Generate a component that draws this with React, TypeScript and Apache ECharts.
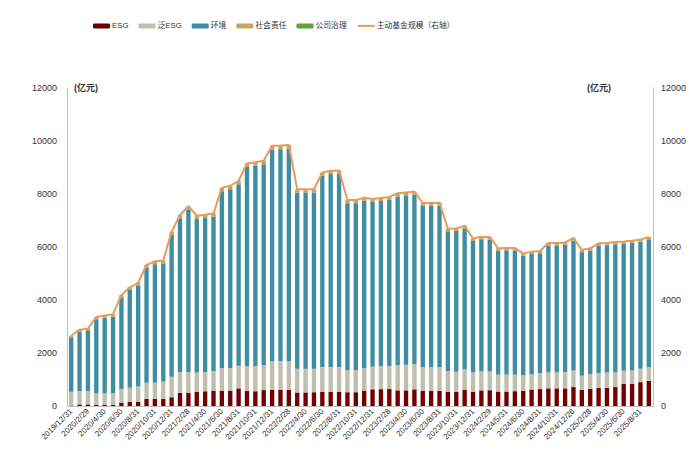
import React, { useEffect, useRef } from "react";
import * as echarts from "echarts";

const categories: string[] = [
  "2019/12/31", "2020/1/31", "2020/2/29", "2020/3/31", "2020/4/30", "2020/5/31", "2020/6/30", "2020/7/31",
  "2020/8/31", "2020/9/30", "2020/10/31", "2020/11/30", "2020/12/31", "2021/1/31", "2021/2/28", "2021/3/31",
  "2021/4/30", "2021/5/31", "2021/6/30", "2021/7/31", "2021/8/31", "2021/9/30", "2021/10/31", "2021/11/30",
  "2021/12/31", "2022/1/31", "2022/2/28", "2022/3/31", "2022/4/30", "2022/5/31", "2022/6/30", "2022/7/31",
  "2022/8/31", "2022/9/30", "2022/10/31", "2022/11/30", "2022/12/31", "2023/1/31", "2023/2/28", "2023/3/31",
  "2023/4/30", "2023/5/31", "2023/6/30", "2023/7/31", "2023/8/31", "2023/9/30", "2023/10/31", "2023/11/30",
  "2023/12/31", "2024/1/31", "2024/2/29", "2024/3/31", "2024/5/31", "2024/6/14", "2024/6/30", "2024/7/31",
  "2024/8/31", "2024/9/30", "2024/10/31", "2024/11/30", "2024/12/26", "2025/1/31", "2025/2/28", "2025/3/31",
  "2025/4/30", "2025/5/31", "2025/6/30", "2025/7/31", "2025/8/31", "2025/9/30",
];

const esg: number[] = [
  15, 60, 60, 50, 50, 50, 125, 150, 150, 265,
  265, 265, 330, 490, 490, 540, 555, 580, 580, 580,
  665, 565, 560, 600, 615, 615, 610, 510, 510, 520,
  540, 540, 540, 520, 520, 580, 630, 635, 640, 590,
  590, 630, 565, 565, 570, 540, 540, 615, 540, 590,
  595, 545, 545, 560, 570, 620, 640, 665, 665, 665,
  715, 605, 650, 685, 685, 715, 830, 830, 900, 945,
];

const panEsg: number[] = [
  525, 505, 505, 430, 430, 430, 515, 540, 590, 615,
  615, 655, 775, 780, 780, 720, 730, 740, 840, 840,
  855, 945, 950, 935, 1070, 1070, 1075, 900, 900, 890,
  930, 930, 930, 825, 825, 855, 855, 875, 870, 945,
  970, 955, 895, 895, 890, 780, 755, 770, 720, 720,
  715, 640, 640, 625, 590, 575, 595, 605, 605, 605,
  620, 540, 560, 550, 575, 545, 505, 505, 510, 515,
];

const env: number[] = [
  2025, 2225, 2265, 2790, 2845, 2885, 3450, 3690, 3805, 4330,
  4470, 4460, 5357, 5817, 6142, 5797, 5812, 5827, 6682, 6762,
  6852, 7507, 7557, 7592, 7997, 8007, 8027, 6647, 6647, 6647,
  7212, 7282, 7292, 6310, 6310, 6310, 6210, 6225, 6265, 6375,
  6380, 6385, 6090, 6090, 6100, 5270, 5305, 5310, 4965, 4985,
  4975, 4675, 4685, 4685, 4515, 4540, 4530, 4790, 4790, 4810,
  4915, 4660, 4655, 4820, 4805, 4845, 4790, 4820, 4785, 4830,
];

const social: number[] = [
  80, 85, 85, 85, 90, 90, 95, 95, 100, 105,
  105, 105, 110, 115, 120, 115, 115, 115, 120, 120,
  120, 125, 125, 125, 130, 130, 130, 115, 115, 115,
  120, 120, 120, 105, 105, 105, 105, 105, 105, 110,
  110, 110, 100, 100, 100, 90, 90, 95, 85, 85,
  85, 80, 80, 80, 75, 75, 75, 80, 80, 80,
  80, 75, 75, 75, 75, 75, 75, 75, 75, 80,
];

const governance: number[] = [
  5, 5, 5, 5, 5, 5, 5, 5, 5, 5,
  5, 5, 8, 8, 8, 8, 8, 8, 8, 8,
  8, 8, 8, 8, 8, 8, 8, 8, 8, 8,
  8, 8, 8, 10, 10, 10, 10, 10, 10, 10,
  10, 10, 10, 10, 10, 10, 10, 10, 10, 10,
  10, 10, 10, 10, 10, 10, 10, 10, 10, 10,
  10, 10, 10, 10, 10, 10, 10, 10, 10, 10,
];

const activeFundScale: number[] = [
  2650, 2880, 2920, 3360, 3420, 3460, 4190, 4480, 4650, 5320,
  5460, 5490, 6580, 7210, 7540, 7180, 7220, 7270, 8230, 8310,
  8500, 9150, 9200, 9260, 9820, 9830, 9850, 8180, 8180, 8180,
  8810, 8880, 8890, 7770, 7770, 7860, 7810, 7850, 7890, 8030,
  8060, 8090, 7660, 7660, 7670, 6690, 6700, 6800, 6320, 6390,
  6380, 5950, 5960, 5960, 5760, 5820, 5850, 6150, 6150, 6170,
  6340, 5890, 5950, 6140, 6150, 6190, 6210, 6240, 6280, 6380,
];

const FONT = "'Liberation Sans', Arial, 'Noto Sans CJK SC', sans-serif";
const TEXT = "#333333";
const AXIS = "#BFBFBF";
const LINE_COLOR = "#E99A5C";

export default function App() {
  const ref = useRef<HTMLDivElement>(null);

  useEffect(() => {
    document.body.style.margin = "0";
    if (!ref.current) return;
    const chart = echarts.init(ref.current, undefined, { renderer: "svg" });
    const barBase = { type: "bar" as const, stack: "total", barWidth: "52%" };
    const plainLabel = (v: number) => String(v);
    chart.setOption({
      animation: false,
      backgroundColor: "#ffffff",
      textStyle: { fontFamily: FONT },
      legend: {
        left: 88,
        top: 17,
        itemWidth: 17,
        itemHeight: 5,
        itemGap: 10,
        textStyle: { fontSize: 7.8, color: TEXT, fontFamily: FONT, padding: [0, 0, 0, -3] },
        data: [
          "ESG",
          "泛ESG",
          "环境",
          "社会责任",
          "公司治理",
          { name: "主动基金规模（右轴）", itemStyle: { opacity: 0 } },
        ],
      },
      grid: { left: 67, right: 47, top: 88, bottom: 46, containLabel: false },
      xAxis: {
        type: "category",
        data: categories,
        axisLine: { show: true, lineStyle: { color: AXIS, width: 1 } },
        axisTick: { show: false },
        axisLabel: {
          interval: 1,
          rotate: 45,
          fontSize: 8,
          color: TEXT,
          margin: 4,
          fontFamily: FONT,
        },
      },
      yAxis: [
        {
          type: "value",
          min: 0,
          max: 12000,
          interval: 2000,
          axisLine: { show: true, lineStyle: { color: AXIS, width: 1 } },
          axisTick: { show: false },
          splitLine: { show: false },
          axisLabel: { fontSize: 9, color: TEXT, margin: 10, fontFamily: FONT, formatter: plainLabel },
        },
        {
          type: "value",
          min: 0,
          max: 12000,
          interval: 2000,
          position: "right",
          axisLine: { show: true, lineStyle: { color: AXIS, width: 1 } },
          axisTick: { show: false },
          splitLine: { show: false },
          axisLabel: { fontSize: 9, color: TEXT, margin: 8, fontFamily: FONT, formatter: plainLabel },
        },
      ],
      graphic: [
        {
          type: "text",
          left: 74,
          top: 83,
          style: { text: "(亿元)", fontSize: 9, fill: TEXT, fontFamily: FONT, fontWeight: "bold" },
        },
        {
          type: "text",
          left: 587,
          top: 83,
          style: { text: "(亿元)", fontSize: 9, fill: TEXT, fontFamily: FONT, fontWeight: "bold" },
        },
      ],
      series: [
        { ...barBase, name: "ESG", data: esg, itemStyle: { color: "#720000" } },
        { ...barBase, name: "泛ESG", data: panEsg, itemStyle: { color: "#C0BFAE" } },
        { ...barBase, name: "环境", data: env, itemStyle: { color: "#3E8DA2" } },
        { ...barBase, name: "社会责任", data: social, itemStyle: { color: "#C8A55F" } },
        { ...barBase, name: "公司治理", data: governance, itemStyle: { color: "#63A03C" } },
        {
          type: "line",
          name: "主动基金规模（右轴）",
          yAxisIndex: 1,
          data: activeFundScale,
          symbol: "none",
          lineStyle: { color: LINE_COLOR, width: 2 },
          itemStyle: { color: LINE_COLOR },
          z: 5,
        },
      ],
    });
    return () => chart.dispose();
  }, []);

  return (
    <div
      ref={ref}
      style={{ width: 700, height: 452, position: "absolute", left: 0, top: 0 }}
    />
  );
}
